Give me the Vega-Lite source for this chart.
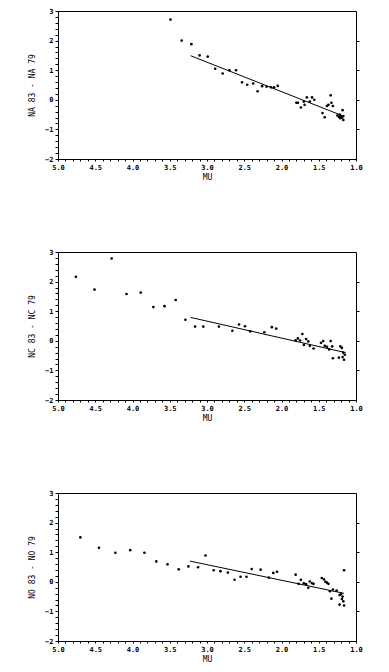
{
  "$schema": "https://vega.github.io/schema/vega-lite/v6.json",
  "background": "white",
  "padding": {"left": 28, "top": 6, "right": 0, "bottom": 0},
  "spacing": 65,
  "config": {
    "view": {"stroke": "black", "strokeWidth": 1},
    "font": "DejaVu Sans Mono",
    "axis": {
      "domainColor": "black", "tickColor": "black", "labelColor": "black", "titleColor": "black",
      "labelFont": "DejaVu Sans Mono", "titleFont": "DejaVu Sans Mono",
      "labelFontSize": 7, "labelFontWeight": "bold", "titleFontSize": 8, "titleFontWeight": "normal",
      "grid": false, "labelPadding": 2
    }
  },
  "datasets": {
    "pts": [
      {"p": "A", "mu": 3.49, "d": 2.71}, {"p": "A", "mu": 3.34, "d": 2.0}, {"p": "A", "mu": 3.21, "d": 1.88},
      {"p": "A", "mu": 3.10, "d": 1.5}, {"p": "A", "mu": 2.99, "d": 1.46}, {"p": "A", "mu": 2.89, "d": 1.05},
      {"p": "A", "mu": 2.79, "d": 0.89}, {"p": "A", "mu": 2.70, "d": 1.0}, {"p": "A", "mu": 2.61, "d": 1.0},
      {"p": "A", "mu": 2.53, "d": 0.59}, {"p": "A", "mu": 2.46, "d": 0.51}, {"p": "A", "mu": 2.38, "d": 0.55},
      {"p": "A", "mu": 2.32, "d": 0.29}, {"p": "A", "mu": 2.26, "d": 0.46}, {"p": "A", "mu": 2.20, "d": 0.44},
      {"p": "A", "mu": 2.14, "d": 0.42}, {"p": "A", "mu": 2.10, "d": 0.42}, {"p": "A", "mu": 2.05, "d": 0.47},
      {"p": "A", "mu": 1.80, "d": -0.1}, {"p": "A", "mu": 1.78, "d": -0.1}, {"p": "A", "mu": 1.74, "d": -0.26},
      {"p": "A", "mu": 1.70, "d": -0.06}, {"p": "A", "mu": 1.69, "d": -0.17}, {"p": "A", "mu": 1.66, "d": 0.08},
      {"p": "A", "mu": 1.62, "d": -0.06}, {"p": "A", "mu": 1.59, "d": 0.08}, {"p": "A", "mu": 1.56, "d": 0.0},
      {"p": "A", "mu": 1.45, "d": -0.45}, {"p": "A", "mu": 1.42, "d": -0.59}, {"p": "A", "mu": 1.39, "d": -0.21},
      {"p": "A", "mu": 1.37, "d": -0.17}, {"p": "A", "mu": 1.34, "d": 0.15}, {"p": "A", "mu": 1.33, "d": -0.1},
      {"p": "A", "mu": 1.31, "d": -0.21}, {"p": "A", "mu": 1.25, "d": -0.53}, {"p": "A", "mu": 1.23, "d": -0.58},
      {"p": "A", "mu": 1.22, "d": -0.5}, {"p": "A", "mu": 1.21, "d": -0.62}, {"p": "A", "mu": 1.20, "d": -0.55},
      {"p": "A", "mu": 1.19, "d": -0.6}, {"p": "A", "mu": 1.18, "d": -0.35}, {"p": "A", "mu": 1.17, "d": -0.68},
      {"p": "A", "mu": 1.17, "d": -0.55},
      {"p": "C", "mu": 4.76, "d": 2.16}, {"p": "C", "mu": 4.51, "d": 1.73}, {"p": "C", "mu": 4.28, "d": 2.78},
      {"p": "C", "mu": 4.08, "d": 1.58}, {"p": "C", "mu": 3.89, "d": 1.63}, {"p": "C", "mu": 3.72, "d": 1.14},
      {"p": "C", "mu": 3.57, "d": 1.17}, {"p": "C", "mu": 3.42, "d": 1.38}, {"p": "C", "mu": 3.29, "d": 0.71},
      {"p": "C", "mu": 3.16, "d": 0.48}, {"p": "C", "mu": 3.05, "d": 0.48}, {"p": "C", "mu": 2.84, "d": 0.48},
      {"p": "C", "mu": 2.66, "d": 0.34}, {"p": "C", "mu": 2.57, "d": 0.55}, {"p": "C", "mu": 2.49, "d": 0.49},
      {"p": "C", "mu": 2.42, "d": 0.32}, {"p": "C", "mu": 2.23, "d": 0.29}, {"p": "C", "mu": 2.13, "d": 0.46},
      {"p": "C", "mu": 2.07, "d": 0.41}, {"p": "C", "mu": 1.81, "d": 0.02}, {"p": "C", "mu": 1.78, "d": 0.08},
      {"p": "C", "mu": 1.75, "d": 0.01}, {"p": "C", "mu": 1.72, "d": 0.23}, {"p": "C", "mu": 1.70, "d": -0.14},
      {"p": "C", "mu": 1.67, "d": 0.06}, {"p": "C", "mu": 1.64, "d": -0.02}, {"p": "C", "mu": 1.62, "d": -0.17},
      {"p": "C", "mu": 1.57, "d": -0.26}, {"p": "C", "mu": 1.47, "d": -0.07}, {"p": "C", "mu": 1.44, "d": -0.01},
      {"p": "C", "mu": 1.42, "d": -0.17}, {"p": "C", "mu": 1.39, "d": -0.2}, {"p": "C", "mu": 1.36, "d": -0.29},
      {"p": "C", "mu": 1.34, "d": -0.01}, {"p": "C", "mu": 1.32, "d": -0.19}, {"p": "C", "mu": 1.31, "d": -0.59},
      {"p": "C", "mu": 1.23, "d": -0.57}, {"p": "C", "mu": 1.21, "d": -0.19}, {"p": "C", "mu": 1.19, "d": -0.24},
      {"p": "C", "mu": 1.17, "d": -0.4}, {"p": "C", "mu": 1.16, "d": -0.64}, {"p": "C", "mu": 1.15, "d": -0.47},
      {"p": "C", "mu": 1.18, "d": -0.55},
      {"p": "O", "mu": 4.70, "d": 1.50}, {"p": "O", "mu": 4.45, "d": 1.15}, {"p": "O", "mu": 4.23, "d": 0.98},
      {"p": "O", "mu": 4.03, "d": 1.07}, {"p": "O", "mu": 3.84, "d": 0.98}, {"p": "O", "mu": 3.68, "d": 0.69},
      {"p": "O", "mu": 3.53, "d": 0.59}, {"p": "O", "mu": 3.38, "d": 0.42}, {"p": "O", "mu": 3.25, "d": 0.52},
      {"p": "O", "mu": 3.12, "d": 0.49}, {"p": "O", "mu": 3.02, "d": 0.89}, {"p": "O", "mu": 2.91, "d": 0.39},
      {"p": "O", "mu": 2.82, "d": 0.36}, {"p": "O", "mu": 2.72, "d": 0.31}, {"p": "O", "mu": 2.63, "d": 0.07},
      {"p": "O", "mu": 2.55, "d": 0.17}, {"p": "O", "mu": 2.47, "d": 0.17}, {"p": "O", "mu": 2.40, "d": 0.43},
      {"p": "O", "mu": 2.28, "d": 0.41}, {"p": "O", "mu": 2.17, "d": 0.14}, {"p": "O", "mu": 2.11, "d": 0.30},
      {"p": "O", "mu": 2.06, "d": 0.34}, {"p": "O", "mu": 1.81, "d": 0.24}, {"p": "O", "mu": 1.77, "d": -0.07},
      {"p": "O", "mu": 1.74, "d": 0.07}, {"p": "O", "mu": 1.70, "d": -0.05}, {"p": "O", "mu": 1.67, "d": -0.08},
      {"p": "O", "mu": 1.64, "d": -0.2}, {"p": "O", "mu": 1.62, "d": 0.01}, {"p": "O", "mu": 1.59, "d": -0.05},
      {"p": "O", "mu": 1.57, "d": -0.07}, {"p": "O", "mu": 1.46, "d": 0.13}, {"p": "O", "mu": 1.43, "d": 0.08},
      {"p": "O", "mu": 1.41, "d": 0.0}, {"p": "O", "mu": 1.39, "d": -0.03}, {"p": "O", "mu": 1.37, "d": -0.07},
      {"p": "O", "mu": 1.35, "d": -0.32}, {"p": "O", "mu": 1.33, "d": -0.57}, {"p": "O", "mu": 1.31, "d": -0.26},
      {"p": "O", "mu": 1.26, "d": -0.3}, {"p": "O", "mu": 1.22, "d": -0.45}, {"p": "O", "mu": 1.22, "d": -0.77},
      {"p": "O", "mu": 1.20, "d": -0.41}, {"p": "O", "mu": 1.19, "d": -0.58}, {"p": "O", "mu": 1.17, "d": -0.66},
      {"p": "O", "mu": 1.16, "d": -0.8}, {"p": "O", "mu": 1.16, "d": 0.39}, {"p": "O", "mu": 1.18, "d": -0.5}
    ],
    "fit": [
      {"p": "A", "mu": 3.22, "d": 1.49}, {"p": "A", "mu": 1.19, "d": -0.53},
      {"p": "C", "mu": 3.22, "d": 0.79}, {"p": "C", "mu": 1.14, "d": -0.40},
      {"p": "O", "mu": 3.23, "d": 0.70}, {"p": "O", "mu": 1.16, "d": -0.39}
    ]
  },
  "vconcat": [
    {
      "width": 298, "height": 148,
      "layer": [
        {
          "data": {"name": "pts"},
          "transform": [{"filter": "datum.p == 'A'"}],
          "mark": {"type": "circle", "size": 7, "color": "black", "opacity": 1},
          "encoding": {
            "x": {"field": "mu", "type": "quantitative", "scale": {"domain": [5, 1], "nice": false},
              "axis": {"title": "MU", "values": [5,4.9,4.8,4.7,4.6,4.5,4.4,4.3,4.2,4.1,4,3.9,3.8,3.7,3.6,3.5,3.4,3.3,3.2,3.1,3,2.9,2.8,2.7,2.6,2.5,2.4,2.3,2.2,2.1,2,1.9,1.8,1.7,1.6,1.5,1.4,1.3,1.2,1.1,1],
                "labelExpr": "floor(datum.value*10+0.5) % 5 == 0 ? format(datum.value, '.1f') : ''", "labelOverlap": false, "labelFlush": false, "tickSize": 2, "titlePadding": 3}},
            "y": {"field": "d", "type": "quantitative", "scale": {"domain": [-2, 3], "nice": false},
              "axis": {"title": "NA 83 - NA 79", "values": [-2,-1.8,-1.6,-1.4,-1.2,-1,-0.8,-0.6,-0.4,-0.2,0,0.2,0.4,0.6,0.8,1,1.2,1.4,1.6,1.8,2,2.2,2.4,2.6,2.8,3],
                "labelExpr": "datum.value % 1 == 0 ? format(datum.value, 'd') : ''", "labelOverlap": false, "labelFlush": false, "tickSize": 3, "titlePadding": 8}}
          }
        },
        {
          "data": {"name": "fit"},
          "transform": [{"filter": "datum.p == 'A'"}],
          "mark": {"type": "line", "color": "black", "strokeWidth": 1},
          "encoding": {
            "x": {"field": "mu", "type": "quantitative", "scale": {"domain": [5, 1], "nice": false},
              "axis": {"title": "MU", "values": [5,4.9,4.8,4.7,4.6,4.5,4.4,4.3,4.2,4.1,4,3.9,3.8,3.7,3.6,3.5,3.4,3.3,3.2,3.1,3,2.9,2.8,2.7,2.6,2.5,2.4,2.3,2.2,2.1,2,1.9,1.8,1.7,1.6,1.5,1.4,1.3,1.2,1.1,1],
                "labelExpr": "floor(datum.value*10+0.5) % 5 == 0 ? format(datum.value, '.1f') : ''", "labelOverlap": false, "labelFlush": false, "tickSize": 2, "titlePadding": 3}},
            "y": {"field": "d", "type": "quantitative", "axis": {"orient": "right", "title": null, "labels": false, "values": [-1, 0, 1, 2], "tickSize": 3, "domain": false}}
          }
        }
      ],
      "resolve": {"axis": {"y": "independent"}}
    },
    {
      "width": 298, "height": 148,
      "layer": [
        {
          "data": {"name": "pts"},
          "transform": [{"filter": "datum.p == 'C'"}],
          "mark": {"type": "circle", "size": 7, "color": "black", "opacity": 1},
          "encoding": {
            "x": {"field": "mu", "type": "quantitative", "scale": {"domain": [5, 1], "nice": false},
              "axis": {"title": "MU", "values": [5,4.9,4.8,4.7,4.6,4.5,4.4,4.3,4.2,4.1,4,3.9,3.8,3.7,3.6,3.5,3.4,3.3,3.2,3.1,3,2.9,2.8,2.7,2.6,2.5,2.4,2.3,2.2,2.1,2,1.9,1.8,1.7,1.6,1.5,1.4,1.3,1.2,1.1,1],
                "labelExpr": "floor(datum.value*10+0.5) % 5 == 0 ? format(datum.value, '.1f') : ''", "labelOverlap": false, "labelFlush": false, "tickSize": 2, "titlePadding": 3}},
            "y": {"field": "d", "type": "quantitative", "scale": {"domain": [-2, 3], "nice": false},
              "axis": {"title": "NC 83 - NC 79", "values": [-2,-1.8,-1.6,-1.4,-1.2,-1,-0.8,-0.6,-0.4,-0.2,0,0.2,0.4,0.6,0.8,1,1.2,1.4,1.6,1.8,2,2.2,2.4,2.6,2.8,3],
                "labelExpr": "datum.value % 1 == 0 ? format(datum.value, 'd') : ''", "labelOverlap": false, "labelFlush": false, "tickSize": 3, "titlePadding": 8}}
          }
        },
        {
          "data": {"name": "fit"},
          "transform": [{"filter": "datum.p == 'C'"}],
          "mark": {"type": "line", "color": "black", "strokeWidth": 1},
          "encoding": {
            "x": {"field": "mu", "type": "quantitative", "scale": {"domain": [5, 1], "nice": false},
              "axis": {"title": "MU", "values": [5,4.9,4.8,4.7,4.6,4.5,4.4,4.3,4.2,4.1,4,3.9,3.8,3.7,3.6,3.5,3.4,3.3,3.2,3.1,3,2.9,2.8,2.7,2.6,2.5,2.4,2.3,2.2,2.1,2,1.9,1.8,1.7,1.6,1.5,1.4,1.3,1.2,1.1,1],
                "labelExpr": "floor(datum.value*10+0.5) % 5 == 0 ? format(datum.value, '.1f') : ''", "labelOverlap": false, "labelFlush": false, "tickSize": 2, "titlePadding": 3}},
            "y": {"field": "d", "type": "quantitative", "axis": {"orient": "right", "title": null, "labels": false, "values": [-1, 0, 1, 2], "tickSize": 3, "domain": false}}
          }
        }
      ],
      "resolve": {"axis": {"y": "independent"}}
    },
    {
      "width": 298, "height": 148,
      "layer": [
        {
          "data": {"name": "pts"},
          "transform": [{"filter": "datum.p == 'O'"}],
          "mark": {"type": "circle", "size": 7, "color": "black", "opacity": 1},
          "encoding": {
            "x": {"field": "mu", "type": "quantitative", "scale": {"domain": [5, 1], "nice": false},
              "axis": {"title": "MU", "values": [5,4.9,4.8,4.7,4.6,4.5,4.4,4.3,4.2,4.1,4,3.9,3.8,3.7,3.6,3.5,3.4,3.3,3.2,3.1,3,2.9,2.8,2.7,2.6,2.5,2.4,2.3,2.2,2.1,2,1.9,1.8,1.7,1.6,1.5,1.4,1.3,1.2,1.1,1],
                "labelExpr": "floor(datum.value*10+0.5) % 5 == 0 ? format(datum.value, '.1f') : ''", "labelOverlap": false, "labelFlush": false, "tickSize": 2, "titlePadding": 3}},
            "y": {"field": "d", "type": "quantitative", "scale": {"domain": [-2, 3], "nice": false},
              "axis": {"title": "NO 83 - NO 79", "values": [-2,-1.8,-1.6,-1.4,-1.2,-1,-0.8,-0.6,-0.4,-0.2,0,0.2,0.4,0.6,0.8,1,1.2,1.4,1.6,1.8,2,2.2,2.4,2.6,2.8,3],
                "labelExpr": "datum.value % 1 == 0 ? format(datum.value, 'd') : ''", "labelOverlap": false, "labelFlush": false, "tickSize": 3, "titlePadding": 8}}
          }
        },
        {
          "data": {"name": "fit"},
          "transform": [{"filter": "datum.p == 'O'"}],
          "mark": {"type": "line", "color": "black", "strokeWidth": 1},
          "encoding": {
            "x": {"field": "mu", "type": "quantitative", "scale": {"domain": [5, 1], "nice": false},
              "axis": {"title": "MU", "values": [5,4.9,4.8,4.7,4.6,4.5,4.4,4.3,4.2,4.1,4,3.9,3.8,3.7,3.6,3.5,3.4,3.3,3.2,3.1,3,2.9,2.8,2.7,2.6,2.5,2.4,2.3,2.2,2.1,2,1.9,1.8,1.7,1.6,1.5,1.4,1.3,1.2,1.1,1],
                "labelExpr": "floor(datum.value*10+0.5) % 5 == 0 ? format(datum.value, '.1f') : ''", "labelOverlap": false, "labelFlush": false, "tickSize": 2, "titlePadding": 3}},
            "y": {"field": "d", "type": "quantitative", "axis": {"orient": "right", "title": null, "labels": false, "values": [-1, 0, 1, 2], "tickSize": 3, "domain": false}}
          }
        }
      ],
      "resolve": {"axis": {"y": "independent"}}
    }
  ]
}
